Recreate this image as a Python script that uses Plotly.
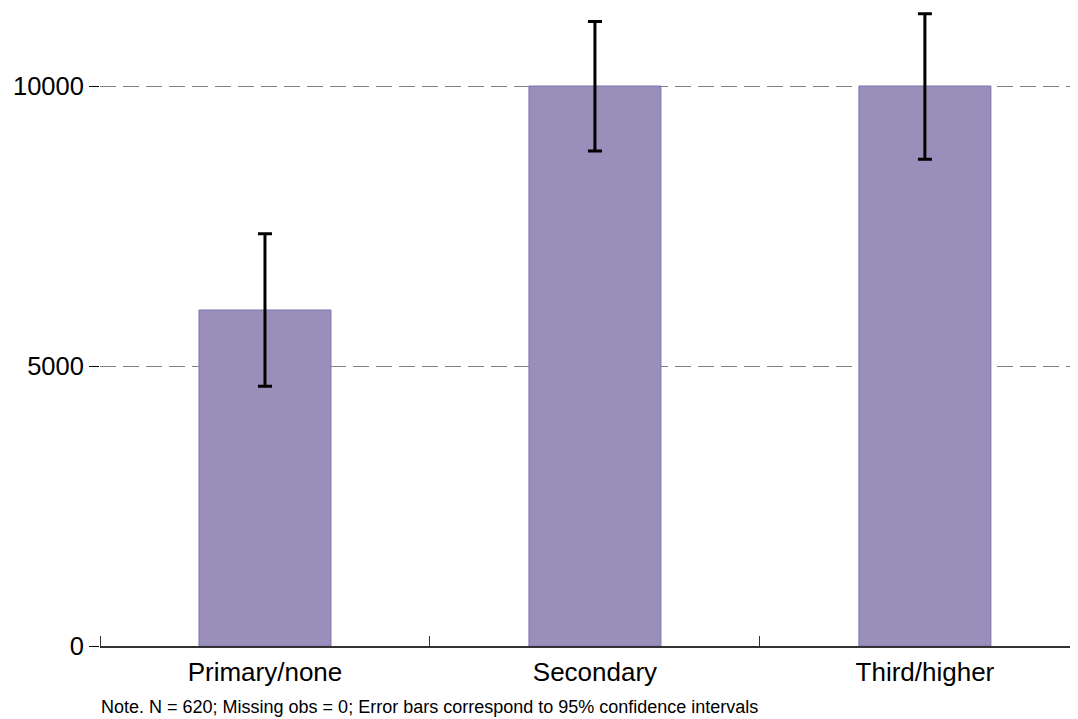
import plotly.graph_objects as go

categories = ["Primary/none", "Secondary", "Third/higher"]
means = [6000, 10000, 10000]
ci_upper = [7360, 11150, 11290]
ci_lower = [4640, 8840, 8690]
y_ticks = [0, 5000, 10000]
note = "Note. N = 620; Missing obs = 0; Error bars correspond to 95% confidence intervals"

err_plus = [u - m for u, m in zip(ci_upper, means)]
err_minus = [m - l for m, l in zip(means, ci_lower)]
positions = list(range(len(categories)))

fig = go.Figure()
fig.add_trace(go.Bar(
    x=positions, y=means, width=0.4,
    marker=dict(color="#998fba", line=dict(color="#7f73ad", width=1)),
    error_y=dict(type="data", symmetric=False, array=err_plus, arrayminus=err_minus,
                 color="black", thickness=3, width=7),
))

fig.update_layout(
    width=1070, height=711,
    margin=dict(l=92, r=0, t=0, b=73),
    paper_bgcolor="white", plot_bgcolor="white",
    showlegend=False,
    font=dict(family="Liberation Sans, Arial, sans-serif", color="black"),
    xaxis=dict(
        range=[-0.5, 2.464],
        tickvals=positions, ticktext=categories, ticks="",
        minor=dict(tick0=-0.5, dtick=1, ticks="inside", ticklen=10,
                   tickcolor="#333333", tickwidth=1, showgrid=False),
        showline=True, linecolor="#333333", linewidth=1.5,
        showgrid=False, tickfont=dict(size=26), zeroline=False,
        ticklabelstandoff=2,
    ),
    yaxis=dict(
        range=[0, 11393], tickvals=y_ticks, ticktext=[str(v) for v in y_ticks],
        ticks="outside", ticklen=10, tickcolor="black", tickwidth=1,
        showline=False, zeroline=False,
        showgrid=True, gridcolor="#808080", gridwidth=1, griddash="16px,7px",
        tickfont=dict(size=25.5),
    ),
    annotations=[dict(
        text=note, xref="paper", yref="paper", x=0.0, y=-0.079,
        xanchor="left", yanchor="top", showarrow=False, font=dict(size=18),
        borderpad=0,
    )],
)

fig.write_html("out.html")
